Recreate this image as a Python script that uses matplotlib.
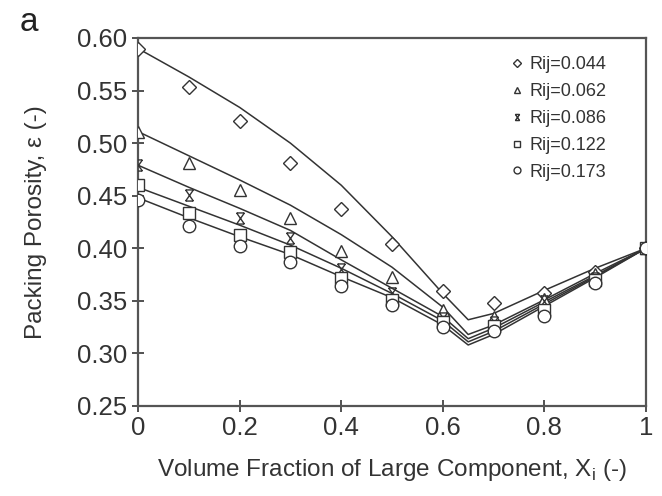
import matplotlib
matplotlib.use("Agg")
import matplotlib.pyplot as plt
from matplotlib.path import Path

plt.rcParams['font.family'] = ['Liberation Sans', 'DejaVu Sans']
plt.rcParams['mathtext.fontset'] = 'custom'
plt.rcParams['mathtext.rm'] = 'Liberation Sans'

# measured points
x_data = [0, 0.1, 0.2, 0.3, 0.4, 0.5, 0.6, 0.7, 0.8, 0.9, 1.0]
labels = ["Rij=0.044", "Rij=0.062", "Rij=0.086", "Rij=0.122", "Rij=0.173"]
y_044 = [0.590, 0.553, 0.521, 0.481, 0.437, 0.404, 0.359, 0.348, 0.357, 0.377, 0.400]
y_062 = [0.511, 0.481, 0.455, 0.429, 0.397, 0.373, 0.341, 0.335, 0.352, 0.376, 0.400]
y_086 = [0.479, 0.451, 0.429, 0.410, 0.380, 0.357, 0.334, 0.330, 0.350, 0.372, 0.400]
y_122 = [0.460, 0.434, 0.413, 0.396, 0.372, 0.351, 0.330, 0.326, 0.341, 0.370, 0.400]
y_173 = [0.446, 0.421, 0.402, 0.387, 0.364, 0.346, 0.325, 0.321, 0.336, 0.367, 0.400]

# model curves
x_model = [0, 0.1, 0.2, 0.3, 0.4, 0.5, 0.6, 0.65, 0.7, 0.8, 0.9, 1.0]
m_044 = [0.590, 0.563, 0.534, 0.500, 0.460, 0.411, 0.357, 0.332, 0.338, 0.360, 0.381, 0.400]
m_062 = [0.511, 0.488, 0.465, 0.441, 0.413, 0.382, 0.344, 0.318, 0.327, 0.351, 0.376, 0.400]
m_086 = [0.479, 0.458, 0.438, 0.417, 0.389, 0.362, 0.335, 0.314, 0.324, 0.349, 0.374, 0.400]
m_122 = [0.458, 0.440, 0.422, 0.403, 0.381, 0.357, 0.331, 0.311, 0.321, 0.347, 0.373, 0.400]
m_173 = [0.448, 0.429, 0.411, 0.394, 0.373, 0.353, 0.327, 0.308, 0.318, 0.345, 0.372, 0.400]

# x with bars top and bottom
star = Path([(-0.7, 1), (0.7, -1), (0.7, 1), (-0.7, -1), (-0.7, 1), (0.7, 1), (-0.7, -1), (0.7, -1)],
            [Path.MOVETO, Path.LINETO, Path.MOVETO, Path.LINETO,
             Path.MOVETO, Path.LINETO, Path.MOVETO, Path.LINETO])

fig = plt.figure(figsize=(6.62, 4.96), dpi=100)
ax = fig.add_axes([0.2085, 0.1815, 0.7673, 0.7419])

for m in [m_044, m_062, m_086, m_122, m_173]:
    ax.plot(x_model, m, color="#333333", lw=1.1, zorder=2)

series = [y_044, y_062, y_086, y_122, y_173]
markers = ["D", "^", star, "s", "o"]
sizes = [7, 9, 8, 9, 9]
for ys, mk, ms, lab in zip(series, markers, sizes, labels):
    ax.plot(x_data, ys, ls="none", marker=mk, ms=ms, mfc="white", mec="#333333",
            mew=1.0, label=lab, zorder=3)

ax.set_xlim(0, 1)
ax.set_ylim(0.25, 0.60)
ax.set_xticks([0, 0.2, 0.4, 0.6, 0.8, 1.0])
ax.set_xticklabels(["0", "0.2", "0.4", "0.6", "0.8", "1"])
ax.set_yticks([0.25, 0.30, 0.35, 0.40, 0.45, 0.50, 0.55, 0.60])
ax.set_yticklabels(["%.2f" % v for v in [0.25, 0.30, 0.35, 0.40, 0.45, 0.50, 0.55, 0.60]])
ax.tick_params(direction="inout", length=9, width=1.2, labelsize=18.5, colors="#333333",
               labelcolor="#333333", pad=3)
for s in ax.spines.values():
    s.set_linewidth(1.6)
    s.set_color("#555555")

ax.set_xlabel("Volume Fraction of Large Component, X$_\\mathregular{i}$ (-)",
              fontsize=17.5, color="#333333", labelpad=12)
ax.set_ylabel("Packing Porosity, \u03b5 (-)", fontsize=17.5, color="#333333", labelpad=22)

leg = ax.legend(loc="upper right", bbox_to_anchor=(0.955, 0.995), frameon=False,
                fontsize=13, markerscale=0.55, handlelength=0.6, handletextpad=0.4,
                labelspacing=0.55, labelcolor="#333333")

fig.text(0.03, 0.955, "a", fontsize=24, color="#222222", va="center")

fig.savefig("out.png", dpi=100)
